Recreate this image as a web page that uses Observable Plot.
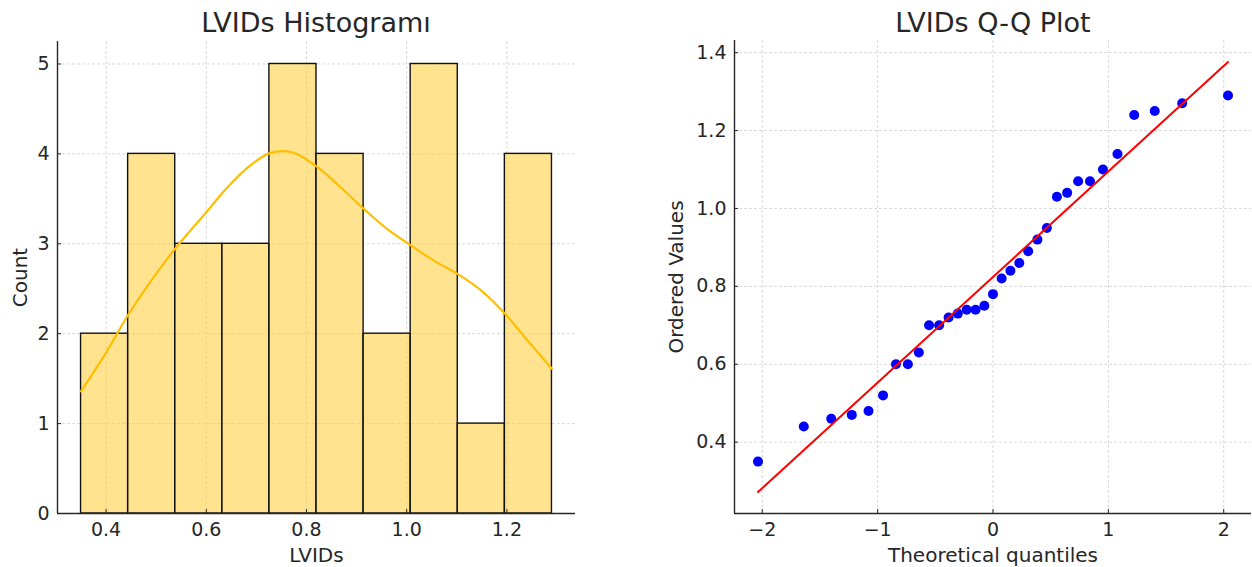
<!DOCTYPE html>
<html><head><meta charset="utf-8">
<script src="https://cdn.jsdelivr.net/npm/d3@7"></script>
<script src="https://cdn.jsdelivr.net/npm/@observablehq/plot@0.6"></script>
<style>
body{margin:0;background:#fff;font-family:"DejaVu Sans",sans-serif;}
#wrap{position:relative;width:1252px;height:567px;overflow:hidden;background:#fff;}
.panel{position:absolute;top:0;width:626px;height:567px;}
.title{position:absolute;top:0;height:40px;font-size:27px;line-height:27px;color:#262626;text-align:center;white-space:nowrap;padding-top:9px;box-sizing:border-box;}
.chart{position:absolute;top:40px;left:0;}
</style>
</head><body>
<div id="wrap">
  <div class="panel" style="left:0"><div class="title" style="left:57px;width:518px">LVIDs Histogramı</div><div class="chart" id="c1"></div></div>
  <div class="panel" style="left:626px"><div class="title" style="left:108px;width:518px">LVIDs Q-Q Plot</div><div class="chart" id="c2"></div></div>
</div>
<script>
// ---- Histogram data ----
const binEdges = [0.35, 0.444, 0.538, 0.632, 0.726, 0.82, 0.914, 1.008, 1.102, 1.196, 1.29];
const binCounts = [2, 4, 3, 3, 5, 4, 2, 5, 1, 4];
const kdeX = [0.35, 0.40, 0.443, 0.49, 0.54, 0.603, 0.636, 0.683, 0.723, 0.749, 0.776, 0.82, 0.862, 0.916, 0.962, 1.009, 1.055, 1.103, 1.149, 1.195, 1.242, 1.29];
const kdeY = [1.36, 1.79, 2.20, 2.59, 2.96, 3.37, 3.59, 3.85, 4.00, 4.03, 4.01, 3.86, 3.66, 3.38, 3.16, 2.98, 2.81, 2.66, 2.48, 2.23, 1.92, 1.61];
const histXTicks = [0.4, 0.6, 0.8, 1.0, 1.2];
const histYTicks = [0, 1, 2, 3, 4, 5];
const histXLabel = "LVIDs";
const histYLabel = "Count";

// ---- Q-Q data ----
const theoQ = [-2.037, -1.640, -1.402, -1.224, -1.079, -0.953, -0.841, -0.738, -0.643, -0.554, -0.467, -0.385, -0.305, -0.228, -0.151, -0.075, 0, 0.075, 0.151, 0.228, 0.305, 0.385, 0.467, 0.554, 0.643, 0.738, 0.841, 0.953, 1.079, 1.224, 1.402, 1.640, 2.037];
const orderedVals = [0.35, 0.44, 0.46, 0.47, 0.48, 0.52, 0.60, 0.60, 0.63, 0.70, 0.70, 0.72, 0.73, 0.74, 0.74, 0.75, 0.78, 0.82, 0.84, 0.86, 0.89, 0.92, 0.95, 1.03, 1.04, 1.07, 1.07, 1.10, 1.14, 1.24, 1.25, 1.27, 1.29];
const fitX = [-2.037, 2.037];
const fitY = [0.272, 1.376];
const qqXTicks = [-2, -1, 0, 1, 2];
const qqYTicks = [0.4, 0.6, 0.8, 1.0, 1.2, 1.4];
const qqXLabel = "Theoretical quantiles";
const qqYLabel = "Ordered Values";

// ---- tables built from arrays ----
const bins = binCounts.map((c, i) => ({x1: binEdges[i], x2: binEdges[i + 1], count: c}));
const kde = kdeX.map((x, i) => ({x, y: kdeY[i]}));
const qq = theoQ.map((t, i) => ({t, v: orderedVals[i]}));
const fit = fitX.map((x, i) => ({x, y: fitY[i]}));

// matplotlib-style 5% margins
function padded(lo, hi) { const m = (hi - lo) * 0.05; return [lo - m, hi + m]; }
const hxDom = padded(binEdges[0], binEdges[binEdges.length - 1]);
const hyDom = [0, d3.max(binCounts) * 1.05];
const qxDom = padded(d3.min(theoQ), d3.max(theoQ));
const qyDom = padded(d3.min([...orderedVals, ...fitY]), d3.max([...orderedVals, ...fitY]));

const gridStyle = {stroke: "#cfcfcf", strokeOpacity: 1, strokeWidth: 0.8, strokeDasharray: "3,2"};
const ink = "#262626";
const svgStyle = {fontSize: "19px", fontFamily: "DejaVu Sans, sans-serif", color: ink, background: "transparent", overflow: "visible"};
const intFmt = d => (d < 0 ? "\u2212" + Math.abs(d) : String(d));

const hist = Plot.plot({
  width: 626, height: 527,
  marginLeft: 57, marginRight: 51, marginTop: 1, marginBottom: 54,
  style: svgStyle,
  x: {domain: hxDom},
  y: {domain: hyDom},
  marks: [
    Plot.gridX(histXTicks, gridStyle),
    Plot.gridY(histYTicks, gridStyle),
    Plot.rectY(bins, {x1: "x1", x2: "x2", y: "count", fill: "#FFCC33", fillOpacity: 0.55, stroke: "#111", strokeWidth: 1.4}),
    Plot.line(kde, {x: "x", y: "y", stroke: "#FFBF00", strokeWidth: 2.2, curve: "catmull-rom"}),
    Plot.ruleX([hxDom[0]], {stroke: ink, strokeWidth: 1.4}),
    Plot.ruleY([hyDom[0]], {stroke: ink, strokeWidth: 1.4}),
    Plot.axisX(histXTicks, {tickSize: -4, tickPadding: 13, tickFormat: d => d.toFixed(1), label: null}),
    Plot.axisY(histYTicks, {tickSize: -4, tickPadding: 12, tickFormat: intFmt, label: null}),
    Plot.text([histXLabel], {frameAnchor: "bottom", lineAnchor: "middle", textAnchor: "middle", dy: 42, fontSize: 20, fill: ink}),
    Plot.text([histYLabel], {frameAnchor: "left", lineAnchor: "middle", textAnchor: "middle", dx: -37, rotate: -90, fontSize: 20, fill: ink})
  ]
});
document.getElementById("c1").append(hist);

const qqp = Plot.plot({
  width: 626, height: 527,
  marginLeft: 108, marginRight: 1, marginTop: 0, marginBottom: 54,
  style: svgStyle,
  x: {domain: qxDom},
  y: {domain: qyDom},
  marks: [
    Plot.gridX(qqXTicks, gridStyle),
    Plot.gridY(qqYTicks, gridStyle),
    Plot.dot(qq, {x: "t", y: "v", r: 5, fill: "#0000FF", stroke: "none"}),
    Plot.line(fit, {x: "x", y: "y", stroke: "#FF0000", strokeWidth: 2}),
    Plot.ruleX([qxDom[0]], {stroke: ink, strokeWidth: 1.4}),
    Plot.ruleY([qyDom[0]], {stroke: ink, strokeWidth: 1.4}),
    Plot.axisX(qqXTicks, {tickSize: -4, tickPadding: 13, tickFormat: intFmt, label: null}),
    Plot.axisY(qqYTicks, {tickSize: -4, tickPadding: 12, tickFormat: d => d.toFixed(1), label: null}),
    Plot.text([qqXLabel], {frameAnchor: "bottom", lineAnchor: "middle", textAnchor: "middle", dy: 42, fontSize: 20, fill: ink}),
    Plot.text([qqYLabel], {frameAnchor: "left", lineAnchor: "middle", textAnchor: "middle", dx: -58, rotate: -90, fontSize: 20, fill: ink})
  ]
});
document.getElementById("c2").append(qqp);
</script>
</body></html>
